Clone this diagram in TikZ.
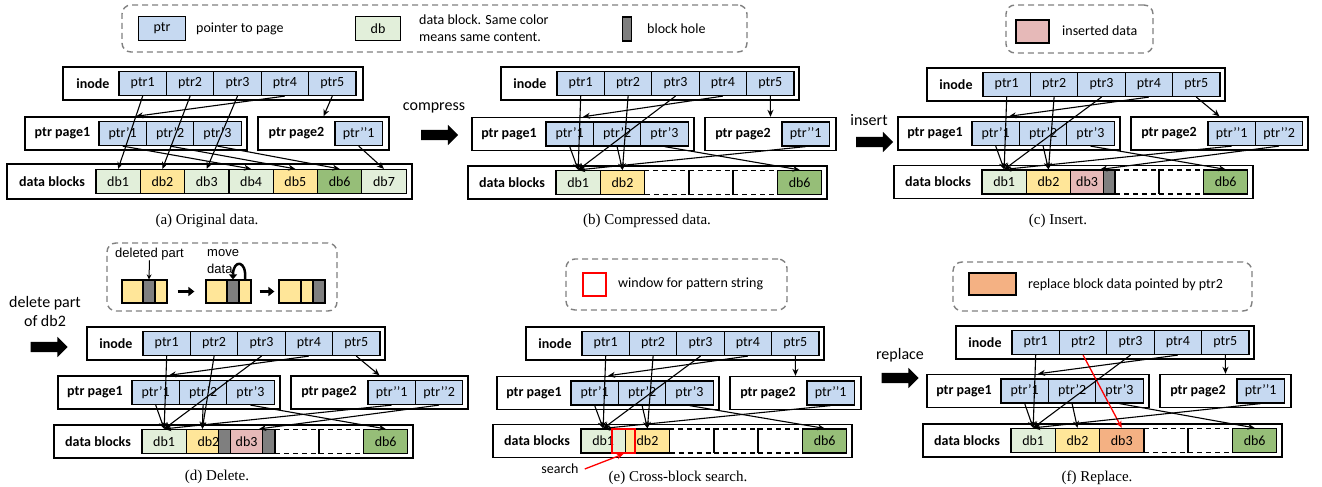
\documentclass[tikz,border=0pt]{standalone}
\usepackage{fontspec}
\setmainfont{Liberation Serif}
\newfontfamily\calfont{Carlito}
\newfontfamily\arialfont{Liberation Sans}
\usetikzlibrary{arrows.meta,shapes.arrows}
\definecolor{ptrblue}{RGB}{198,217,241}
\definecolor{dbgreen}{RGB}{226,239,218}
\definecolor{dbyellow}{RGB}{255,230,153}
\definecolor{dbdark}{RGB}{150,190,120}
\definecolor{dbpink}{RGB}{230,185,184}
\definecolor{dborange}{RGB}{244,177,131}
\definecolor{holegray}{RGB}{127,127,127}
\definecolor{lgdgray}{RGB}{128,128,128}
\tikzset{
  cal/.style={font=\calfont\fontsize{14}{17}\selectfont},
  holderbox/.style={draw, line width=1.4pt, minimum height=33pt, inner sep=0pt},
  boxtitle/.style={font=\calfont\bfseries\fontsize{14}{17}\selectfont, inner sep=0pt},
  ptr/.style={draw, line width=1.2pt, fill=ptrblue, minimum width=47.4pt, minimum height=24pt, inner sep=0pt, cal},
  db/.style={draw, line width=1.2pt, minimum width=44.3pt, minimum height=24pt, inner sep=0pt, cal},
  vacant/.style={db, dash pattern=on 5pt off 4pt, line width=1.5pt},
  holebox/.style={draw, line width=1.2pt, fill=holegray, minimum height=24pt, inner sep=0pt},
  lgd/.style={draw=lgdgray, line width=1.4pt, dash pattern=on 6pt off 4pt, rounded corners=9pt, inner sep=0pt},
  link/.style={-{Stealth[length=7pt,width=6pt]}, line width=1.1pt},
  fat/.style={line width=3pt, -{Triangle[length=6pt,width=9pt]}},
  bigarrow/.style={single arrow, fill=black, minimum height=37pt, minimum width=20pt, single arrow head extend=5pt, inner sep=5pt},
  capt/.style={font=\fontsize{15}{18}\selectfont},
  sidelabel/.style={font=\calfont\fontsize{16}{19}\selectfont, align=center},
  arialtext/.style={font=\arialfont\fontsize{13}{17}\selectfont, inner sep=0pt},
}
\begin{document}
\begin{tikzpicture}[x=1pt, y=-1pt]
\useasboundingbox (0,0) rectangle (1322,487);

% legends
\node[lgd, minimum width=625pt, minimum height=47pt] (lgd1) at (434.5,28.5) {};
\node[ptr] (lgdptr) at (162,28.5) {ptr};
\node[cal, anchor=west, inner sep=0pt] (lgdptrt) at (196,28.5) {pointer to page};
\node[db, fill=dbgreen] (lgddb) at (378,28.5) {db};
\node[cal, anchor=west, align=left, inner sep=0pt] (lgddbt) at (419,28.5) {data block. Same color\\means same content.};
\node[holebox, minimum width=8.5pt] (lgdhole) at (627,29) {};
\node[cal, anchor=west, inner sep=0pt] (lgdholet) at (647,29) {block hole};

\node[lgd, minimum width=147pt, minimum height=48pt] (lgd2) at (1079.5,29) {};
\node[db, fill=dbpink, minimum width=33pt, minimum height=23pt] (lgdins) at (1032.5,31.5) {};
\node[cal, anchor=west, inner sep=0pt] (lgdinst) at (1062,31) {inserted data};

\node[lgd, minimum width=230pt, minimum height=68pt] (lgd3) at (222,277) {};
\node[arialtext] (d-delp) at (149.5,254) {deleted part};
\node[db, fill=dbyellow, minimum width=21pt, minimum height=23pt] (d-k1) at (132.5,291.5) {};
\node[holebox, minimum width=12pt, minimum height=23pt] (d-k2) at (149,291.5) {};
\node[db, fill=dbyellow, minimum width=12pt, minimum height=23pt] (d-k3) at (161,291.5) {};
\node[db, fill=dbyellow, minimum width=21pt, minimum height=23pt] (d-m1) at (216.5,291.5) {};
\node[holebox, minimum width=12pt, minimum height=23pt] (d-m2) at (233,291.5) {};
\node[db, fill=dbyellow, minimum width=12pt, minimum height=23pt] (d-m3) at (245,291.5) {};
\node[db, fill=dbyellow, minimum width=22pt, minimum height=23pt] (d-n1) at (290,291.5) {};
\node[db, fill=dbyellow, minimum width=12pt, minimum height=23pt] (d-n2) at (307,291.5) {};
\node[holebox, minimum width=12pt, minimum height=23pt] (d-n3) at (319,291.5) {};
\node[arialtext, anchor=west, align=left] (d-move) at (207,261.5) {move\\data};
\draw[line width=1pt, -{Stealth[length=5pt,width=5pt]}] (d-delp.south) -- (d-k2.north);
\draw[fat] ([xshift=10pt]d-k3.east) -- ([xshift=-11pt]d-m1.west);
\draw[fat] ([xshift=8pt]d-m3.east) -- ([xshift=-4pt]d-n1.west);
\draw[line width=2.5pt, -{Triangle[length=5pt,width=8pt]}] (d-m3.north) .. controls +(2,-20) and +(0,-20) .. (d-m2.north);

\node[lgd, minimum width=221pt, minimum height=51pt] (lgd4) at (676.5,284.5) {};
\node[draw=red, line width=1.5pt, minimum width=23pt, minimum height=23pt, inner sep=0pt] (lgdwin) at (594.5,284.5) {};
\node[cal, anchor=west, inner sep=0pt] (lgdwint) at (618,284) {window for pattern string};

\node[lgd, minimum width=299pt, minimum height=49pt] (lgd5) at (1102.5,286.5) {};
\node[db, fill=dborange, minimum width=47pt, minimum height=22pt] (lgdrep) at (992.5,284) {};
\node[cal, anchor=west, inner sep=0pt] (lgdrept) at (1028,285) {replace block data pointed by ptr2};

% operations
\node[sidelabel] (cmp) at (434,108) {compress};
\node[bigarrow] (cmparr) at (437,135) {};
\node[sidelabel] (ins) at (869,120) {insert};
\node[bigarrow] (insarr) at (872,142) {};
\node[sidelabel] (del) at (45,311.5) {delete part\\of db2};
\node[bigarrow] (delarr) at (46.5,347) {};
\node[sidelabel] (rep) at (900,355) {replace};
\node[bigarrow] (reparr) at (897.5,378) {};

% (a) original data
\begin{scope}[name prefix=a-]
\node[holderbox, minimum width=300pt] (inode) at (213,83.5) {};
\node[boxtitle] (inodet) at (93,83.5) {inode};
\foreach \i in {1,...,5} \node[ptr] (p\i) at (119+47.4*\i-23.7,83.5) {ptr\i};
\node[holderbox, minimum width=222pt] (page1) at (136,133.5) {};
\node[boxtitle] (page1t) at (62.5,133.5) {ptr page1};
\foreach \i in {1,2,3} \node[ptr] (q\i) at (99+47.4*\i-23.7,133.5) {ptr’\i};
\node[holderbox, minimum width=131pt] (page2) at (323.5,133.5) {};
\node[boxtitle] (page2t) at (296.5,133.5) {ptr page2};
\node[ptr] (r1) at (358.7,133.5) {ptr’’1};
\node[holderbox, minimum width=405pt, minimum height=35pt] (data) at (209.5,181.5) {};
\node[boxtitle] (datat) at (52,181.5) {data blocks};
\foreach \i/\c in {1/dbgreen,2/dbyellow,3/dbgreen,4/dbgreen,5/dbyellow,6/dbdark,7/dbgreen}
  \node[db, fill=\c] (d\i) at (96+44.3*\i-22.15,181.5) {db\i};
\draw[link] (p1.south) -- (d1.north);
\draw[link] (p2.south) -- (d2.north);
\draw[link] (p3.south) -- (d3.north);
\draw[link] (p4.south) -- (page1.north);
\draw[link] (p5.south) -- (page2.north);
\draw[link] (q1.south) -- (d4.north);
\draw[link] (q2.south) -- (d5.north);
\draw[link] (q3.south) -- (d6.north);
\draw[link] (r1.south) -- (d7.north);
\node[capt] (cap) at (207,221) {(a) Original data.};
\end{scope}

% (b) compressed data
\begin{scope}[shift={(468,67)}, name prefix=b-]
\node[holderbox, minimum width=298pt] (inode) at (182,16.5) {};
\node[boxtitle] (inodet) at (62,16.5) {inode};
\foreach \i in {1,...,5} \node[ptr] (p\i) at (89+47.4*\i-23.7,16.5) {ptr\i};
\node[holderbox, minimum width=222pt] (page1) at (115,67) {};
\node[boxtitle] (page1t) at (41,67) {ptr page1};
\foreach \i in {1,2,3} \node[ptr] (q\i) at (78+47.4*\i-23.7,67) {ptr’\i};
\node[holderbox, minimum width=131pt] (page2) at (302.5,67) {};
\node[boxtitle] (page2t) at (275,67) {ptr page2};
\node[ptr] (r1) at (337.7,67) {ptr’’1};
\node[holderbox, minimum width=359pt] (data) at (179.5,115.5) {};
\node[boxtitle] (datat) at (44,115.5) {data blocks};
\foreach \i in {3,4,5} \node[vacant] (d\i) at (88+44.3*\i-22.15,115.5) {};
\node[db, fill=dbgreen] (d1) at (110.15,115.5) {db1};
\node[db, fill=dbyellow] (d2) at (154.45,115.5) {db2};
\node[db, fill=dbdark] (d6) at (331.65,115.5) {db6};
\draw[link] (p1.south) -- (d1.north);
\draw[link] (p2.south) -- (d2.north);
\draw[link] (p3.south) -- (d1.north);
\draw[link] (p4.south) -- (page1.north);
\draw[link] (p5.south) -- (page2.north);
\draw[link] (q1.south) -- (d1.north);
\draw[link] (q2.south) -- (d2.north);
\draw[link] (q3.south) -- (d6.north);
\draw[link] (r1.south) -- (d1.north);
\node[capt] (cap) at (179,154) {(b) Compressed data.};
\end{scope}

% (c) insert
\begin{scope}[shift={(894,68)}, name prefix=c-]
\node[holderbox, minimum width=298pt] (inode) at (182,16.5) {};
\node[boxtitle] (inodet) at (62,16.5) {inode};
\foreach \i in {1,...,5} \node[ptr] (p\i) at (89+47.4*\i-23.7,16.5) {ptr\i};
\node[holderbox, minimum width=222pt] (page1) at (115,65.5) {};
\node[boxtitle] (page1t) at (41,65.5) {ptr page1};
\foreach \i in {1,2,3} \node[ptr] (q\i) at (78+47.4*\i-23.7,65.5) {ptr’\i};
\node[holderbox, minimum width=177pt] (page2) at (325.5,65.5) {};
\node[boxtitle] (page2t) at (275,65.5) {ptr page2};
\foreach \i in {1,2} \node[ptr] (r\i) at (314+47.4*\i-23.7,65.5) {ptr’’\i};
\node[holderbox, minimum width=359pt] (data) at (179.5,114) {};
\node[boxtitle] (datat) at (44,114) {data blocks};
\foreach \i in {4,5} \node[vacant] (d\i) at (88+44.3*\i-22.15,114) {};
\node[db, fill=dbgreen] (d1) at (110.15,114) {db1};
\node[db, fill=dbyellow] (d2) at (154.45,114) {db2};
\node[db, fill=dbpink, minimum width=33pt] (d3) at (193.1,114) {db3};
\node[holebox, minimum width=11.3pt] (h1) at (215.25,114) {};
\node[db, fill=dbdark] (d6) at (331.65,114) {db6};
\draw[link] (p1.south) -- (d1.north);
\draw[link] (p2.south) -- (d2.north);
\draw[link] (p3.south) -- (d1.north);
\draw[link] (p4.south) -- (page1.north);
\draw[link] (p5.south) -- (page2.north);
\draw[link] (q1.south) -- (d1.north);
\draw[link] (q2.south) -- (d2.north);
\draw[link] (q3.south) -- (d6.north);
\draw[link] (r1.south) -- (d1.north);
\draw[link] (r2.south) -- ([xshift=-4pt]d3.north east);
\node[capt] (cap) at (164,153) {(c) Insert.};
\end{scope}

% (d) delete
\begin{scope}[shift={(54,327)}, name prefix=d-]
\node[holderbox, minimum width=298pt] (inode) at (182,16.5) {};
\node[boxtitle] (inodet) at (62,16.5) {inode};
\foreach \i in {1,...,5} \node[ptr] (p\i) at (89+47.4*\i-23.7,16.5) {ptr\i};
\node[holderbox, minimum width=222pt] (page1) at (115,65.5) {};
\node[boxtitle] (page1t) at (41,65.5) {ptr page1};
\foreach \i in {1,2,3} \node[ptr] (q\i) at (78+47.4*\i-23.7,65.5) {ptr’\i};
\node[holderbox, minimum width=177pt] (page2) at (325.5,65.5) {};
\node[boxtitle] (page2t) at (275,65.5) {ptr page2};
\foreach \i in {1,2} \node[ptr] (r\i) at (314+47.4*\i-23.7,65.5) {ptr’’\i};
\node[holderbox, minimum width=359pt] (data) at (179.5,114.5) {};
\node[boxtitle] (datat) at (44,114.5) {data blocks};
\foreach \i in {4,5} \node[vacant] (d\i) at (88+44.3*\i-22.15,114.5) {};
\node[db, fill=dbgreen] (d1) at (110.15,114.5) {db1};
\node[db, fill=dbyellow, minimum width=32pt] (d2) at (148.3,114.5) {};
\node[holebox, minimum width=12.3pt] (h1) at (170.45,114.5) {};
\node[db, fill=dbpink, minimum width=32pt] (d3) at (192.6,114.5) {db3};
\node[holebox, minimum width=12.3pt] (h2) at (214.75,114.5) {};
\node[db, fill=dbdark] (d6) at (331.65,114.5) {db6};
\node[cal, inner sep=0pt] (d2t) at (154.45,114.5) {db2};
\draw[link] (p1.south) -- (d1.north);
\draw[link] (p2.south) -- (d2.north);
\draw[link] (p3.south) -- (d1.north);
\draw[link] (p4.south) -- (page1.north);
\draw[link] (p5.south) -- (page2.north);
\draw[link] (q1.south) -- (d1.north);
\draw[link] (q2.south) -- (d2.north);
\draw[link] (q3.south) -- (d6.north);
\draw[link] (r1.south) -- (d1.north);
\draw[link] (r2.south) -- ([xshift=-4pt]d3.north east);
\node[capt] (cap) at (163,150) {(d) Delete.};
\end{scope}

% (e) cross-block search
\begin{scope}[shift={(493,327)}, name prefix=e-]
\node[holderbox, minimum width=298pt] (inode) at (182,16.5) {};
\node[boxtitle] (inodet) at (62,16.5) {inode};
\foreach \i in {1,...,5} \node[ptr] (p\i) at (89+47.4*\i-23.7,16.5) {ptr\i};
\node[holderbox, minimum width=222pt] (page1) at (115,66) {};
\node[boxtitle] (page1t) at (41,66) {ptr page1};
\foreach \i in {1,2,3} \node[ptr] (q\i) at (78+47.4*\i-23.7,66) {ptr’\i};
\node[holderbox, minimum width=131pt] (page2) at (302.5,66) {};
\node[boxtitle] (page2t) at (275,66) {ptr page2};
\node[ptr] (r1) at (337.7,66) {ptr’’1};
\node[holderbox, minimum width=359pt] (data) at (179.5,114) {};
\node[boxtitle] (datat) at (44,114) {data blocks};
\foreach \i in {3,4,5} \node[vacant] (d\i) at (88+44.3*\i-22.15,114) {};
\node[db, fill=dbgreen] (d1) at (110.15,114) {db1};
\node[db, fill=dbyellow] (d2) at (154.45,114) {db2};
\node[db, fill=dbdark] (d6) at (331.65,114) {db6};
\node[draw=red, line width=2pt, minimum width=23pt, minimum height=24pt, inner sep=0pt] (win) at (130.5,114) {};
\node[cal, inner sep=0pt] (search) at (67,142) {search};
\draw[link] (p1.south) -- (d1.north);
\draw[link] (p2.south) -- (d2.north);
\draw[link] (p3.south) -- (d1.north);
\draw[link] (p4.south) -- (page1.north);
\draw[link] (p5.south) -- (page2.north);
\draw[link] (q1.south) -- (d1.north);
\draw[link] (q2.south) -- (d2.north);
\draw[link] (q3.south) -- (d6.north);
\draw[link] (r1.south) -- (d1.north);
\draw[link, red, line width=1.3pt] ([xshift=6pt]search.east) -- (win.south);
\node[capt] (cap) at (185,151) {(e) Cross-block search.};
\end{scope}

% (f) replace
\begin{scope}[shift={(923,327)}, name prefix=f-]
\node[holderbox, minimum width=298pt] (inode) at (182,15.5) {};
\node[boxtitle] (inodet) at (62,15.5) {inode};
\foreach \i in {1,...,5} \node[ptr] (p\i) at (89+47.4*\i-23.7,15.5) {ptr\i};
\node[holderbox, minimum width=222pt] (page1) at (115,64) {};
\node[boxtitle] (page1t) at (41,64) {ptr page1};
\foreach \i in {1,2,3} \node[ptr] (q\i) at (78+47.4*\i-23.7,64) {ptr’\i};
\node[holderbox, minimum width=131pt] (page2) at (302.5,64) {};
\node[boxtitle] (page2t) at (275,64) {ptr page2};
\node[ptr] (r1) at (337.7,64) {ptr’’1};
\node[holderbox, minimum width=359pt] (data) at (179.5,113.5) {};
\node[boxtitle] (datat) at (44,113.5) {data blocks};
\foreach \i in {4,5} \node[vacant] (d\i) at (88+44.3*\i-22.15,113.5) {};
\node[db, fill=dbgreen] (d1) at (110.15,113.5) {db1};
\node[db, fill=dbyellow] (d2) at (154.45,113.5) {db2};
\node[db, fill=dborange] (d3) at (198.75,113.5) {db3};
\node[db, fill=dbdark] (d6) at (331.65,113.5) {db6};
\draw[link] (p1.south) -- (d1.north);
\draw[link, red, line width=1.3pt] (p2.south) -- (d3.north);
\draw[link] (p3.south) -- (d1.north);
\draw[link] (p4.south) -- (page1.north);
\draw[link] (p5.south) -- (page2.north);
\draw[link] (q1.south) -- (d1.north);
\draw[link] (q2.south) -- (d2.north);
\draw[link] (q3.south) -- (d6.north);
\draw[link] (r1.south) -- (d1.north);
\node[capt] (cap) at (174,151) {(f) Replace.};
\end{scope}
\end{tikzpicture}
\end{document}
